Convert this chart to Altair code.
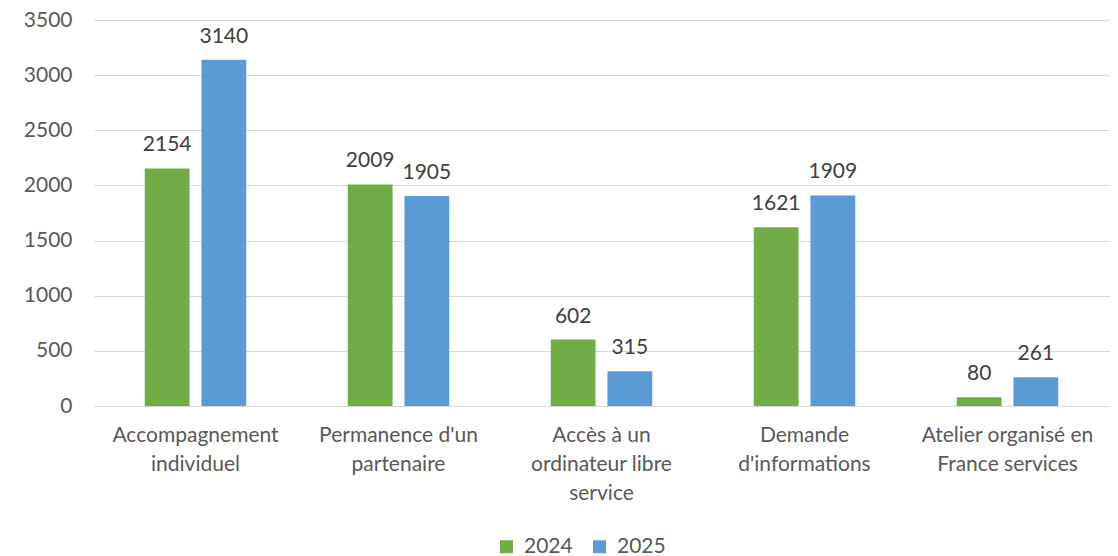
import altair as alt
import pandas as pd

categories = [
    "Accompagnement individuel",
    "Permanence d'un partenaire",
    "Accès à un ordinateur libre service",
    "Demande d'informations",
    "Atelier organisé en France services",
]
label_lines = [
    ["Accompagnement", "individuel"],
    ["Permanence d'un", "partenaire"],
    ["Accès à un", "ordinateur libre", "service"],
    ["Demande", "d'informations"],
    ["Atelier organisé en", "France services"],
]
years = ["2024", "2025"]
values_2024 = [2154, 2009, 602, 1621, 80]
values_2025 = [3140, 1905, 315, 1909, 261]
colors = ["#70AD47", "#5B9BD5"]
y_ticks = [0, 500, 1000, 1500, 2000, 2500, 3000, 3500]

rows = []
for c, v in zip(categories, values_2024):
    rows.append({"cat": c, "year": "2024", "value": v})
for c, v in zip(categories, values_2025):
    rows.append({"cat": c, "year": "2025", "value": v})
df = pd.DataFrame(rows)

# label expression mapping category -> wrapped lines
parts = []
for c, lines in zip(categories, label_lines):
    c_esc = c.replace("'", "\\'")
    arr = "[" + ",".join("'" + l.replace("'", "\\'") + "'" for l in lines) + "]"
    parts.append((c_esc, arr))
expr = "datum.label"
for c_esc, arr in reversed(parts):
    expr = f"datum.label == '{c_esc}' ? {arr} : ({expr})"

FONT = "Lato"

x_enc = alt.X(
    "cat:N",
    sort=categories,
    title=None,
    scale=alt.Scale(paddingInner=0.5, paddingOuter=0.25),
    axis=alt.Axis(
        labelExpr=expr,
        labelAngle=0,
        labelFont=FONT,
        labelFontSize=21,
        labelColor="#595959",
        labelLineHeight=29,
        labelPadding=18,
        ticks=False,
        domainColor="#D9D9D9",
        grid=False,
        labelBaseline="top",
    ),
)
xoff = alt.XOffset(
    "year:N", sort=years, scale=alt.Scale(paddingInner=0.21, paddingOuter=0)
)
y_enc = alt.Y(
    "value:Q",
    title=None,
    scale=alt.Scale(domain=[0, 3500], nice=False),
    axis=alt.Axis(
        values=y_ticks,
        format="d",
        labelFont=FONT,
        labelFontSize=21,
        labelColor="#595959",
        labelPadding=22,
        ticks=False,
        domain=False,
        gridColor="#D9D9D9",
        gridWidth=1,
    ),
)

bars = alt.Chart(df).mark_bar().encode(
    x=x_enc,
    xOffset=xoff,
    y=y_enc,
    color=alt.Color(
        "year:N",
        sort=years,
        scale=alt.Scale(domain=years, range=colors),
        legend=alt.Legend(
            title=None,
            orient="none",
            legendX=402,
            legendY=516,
            direction="horizontal",
            symbolType="square",
            symbolSize=169,
            symbolStrokeWidth=0,
            labelFont=FONT,
            labelFontSize=21,
            labelColor="#595959",
            labelOffset=7,
            columnPadding=16,
        ),
    ),
)

labels = alt.Chart(df).mark_text(
    font=FONT, fontSize=21, color="#404040", dy=-17, baseline="alphabetic"
).encode(
    x=alt.X("cat:N", sort=categories),
    xOffset=xoff,
    y=alt.Y("value:Q"),
    text="value:Q",
)

chart = (
    alt.layer(bars, labels)
    .properties(
        width=1015,
        height=386,
        background="white",
        autosize=alt.AutoSizeParams(type="none"),
        padding={"left": 86, "top": 12, "right": 1, "bottom": 150},
    )
    .configure_view(strokeWidth=0, stroke="transparent")
    .configure_axisX(grid=False)
)

chart.save("out.html", embed_options={"renderer": "svg", "actions": False})
